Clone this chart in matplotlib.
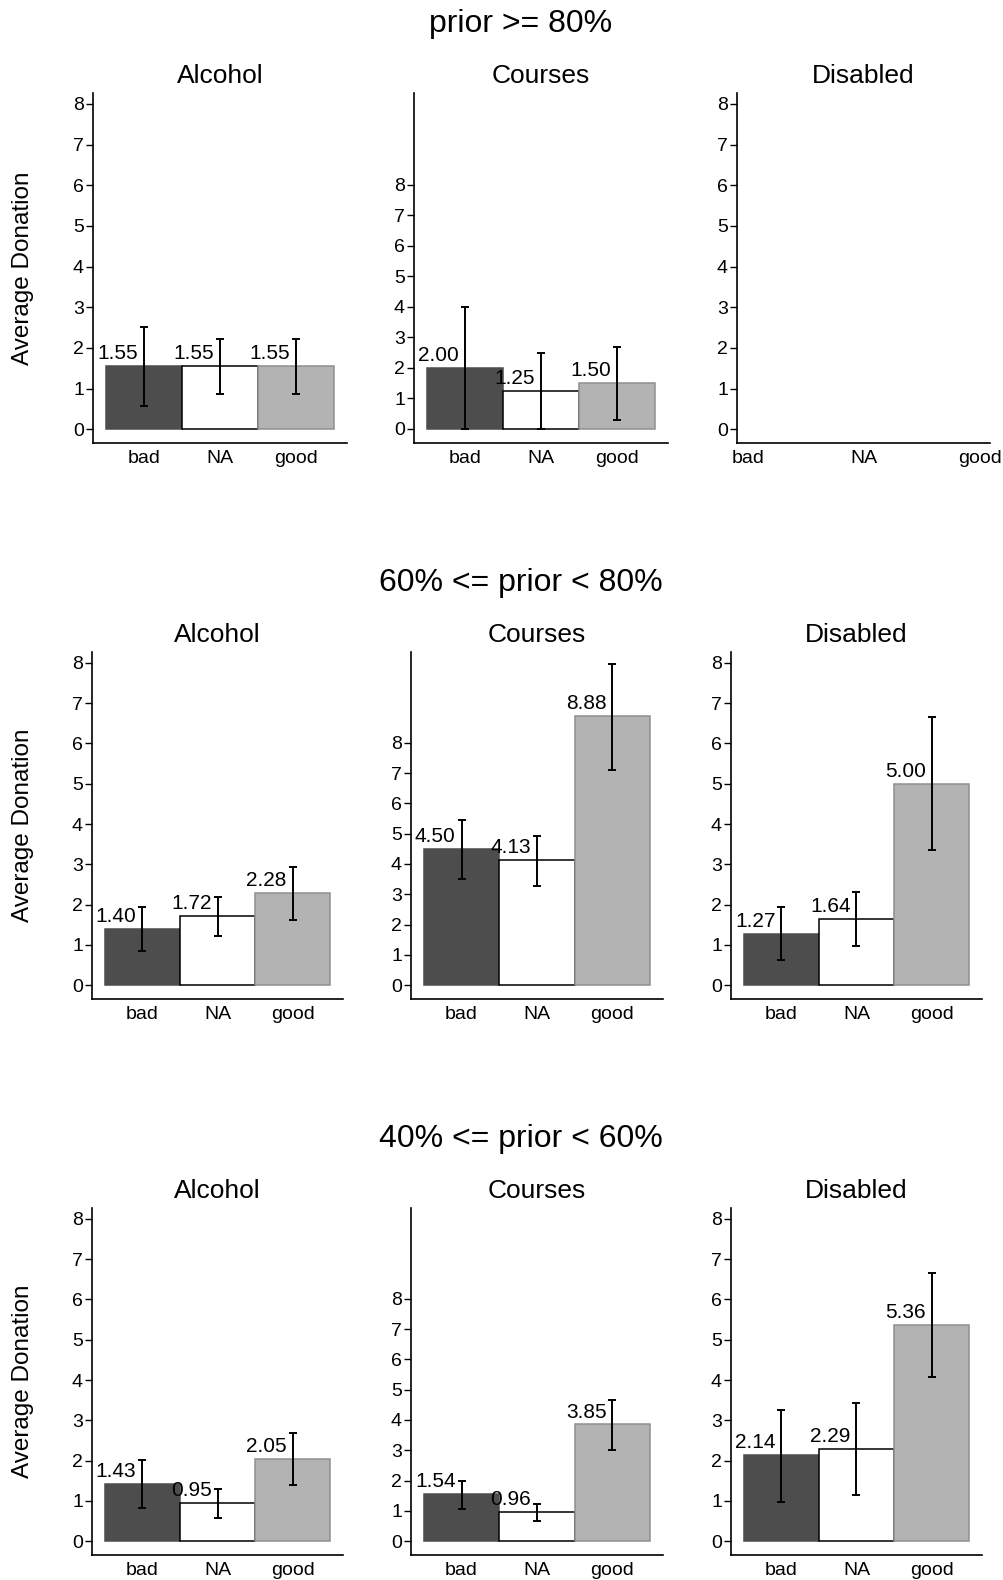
import matplotlib
matplotlib.use("Agg")
import matplotlib.pyplot as plt

plt.rcParams['font.family'] = ['Liberation Sans', 'DejaVu Sans']

# ---- data -------------------------------------------------------------
categories = ["bad", "NA", "good"]
charities = ["Alcohol", "Courses", "Disabled"]
prior_groups = ["prior >= 80%", "60% <= prior < 80%", "40% <= prior < 60%"]

# rows follow prior_groups; an empty list means no observations
alcohol_mean = [[1.55, 1.55, 1.55], [1.40, 1.72, 2.28], [1.43, 0.95, 2.05]]
alcohol_lo = [[0.56, 0.86, 0.86], [0.84, 1.23, 1.63], [0.83, 0.59, 1.39]]
alcohol_hi = [[2.52, 2.23, 2.23], [1.94, 2.19, 2.94], [2.02, 1.30, 2.68]]

courses_mean = [[2.00, 1.25, 1.50], [4.50, 4.13, 8.88], [1.54, 0.96, 3.85]]
courses_lo = [[0.00, 0.00, 0.28], [3.50, 3.27, 7.10], [1.05, 0.66, 3.00]]
courses_hi = [[3.99, 2.49, 2.68], [5.44, 4.92, 10.60], [1.99, 1.22, 4.66]]

disabled_mean = [[], [1.27, 1.64, 5.00], [2.14, 2.29, 5.36]]
disabled_lo = [[], [0.64, 0.98, 3.35], [0.97, 1.14, 4.07]]
disabled_hi = [[], [1.94, 2.31, 6.66], [3.27, 3.44, 6.66]]

y_ticks = [0, 1, 2, 3, 4, 5, 6, 7, 8]

panel_data = {
    "Alcohol": (alcohol_mean, alcohol_lo, alcohol_hi),
    "Courses": (courses_mean, courses_lo, courses_hi),
    "Disabled": (disabled_mean, disabled_lo, disabled_hi),
}
y_limits = {"Alcohol": (-0.34, 8.27), "Courses": (-0.46, 11.0), "Disabled": (-0.34, 8.27)}

bar_fill = ["#4d4d4d", "#ffffff", "#b3b3b3"]
bar_edge = ["#4d4d4d", "#000000", "#8f8f8f"]

# ---- layout (pixel boxes on a 1004 x 1580 canvas) ----------------------
W, H = 1004, 1580
fig = plt.figure(figsize=(W / 100, H / 100), dpi=100)

row_box = [(93, 443), (652, 999), (1208, 1555)]
col_box = [
    [(93, 347), (414, 668), (737, 990)],
    [(92, 343), (411, 663), (731, 982)],
    [(92, 343), (411, 663), (731, 982)],
]
group_baseline = [32, 591, 1147]

for r, group in enumerate(prior_groups):
    top, bottom = row_box[r]
    fig.text(521 / W, 1 - group_baseline[r] / H, group, ha="center",
             va="baseline", fontsize=23)
    for c, name in enumerate(charities):
        left, right = col_box[r][c]
        ax = fig.add_axes([left / W, 1 - bottom / H, (right - left) / W,
                           (bottom - top) / H])
        means, los, his = panel_data[name]
        mean, lo, hi = means[r], los[r], his[r]
        xs = list(range(len(categories)))

        if mean:
            ax.bar(xs, mean, width=1.0, color=bar_fill, edgecolor=bar_edge,
                   linewidth=1.1, zorder=2)
            ax.errorbar(xs, mean,
                        yerr=[[m - l for m, l in zip(mean, lo)],
                              [h - m for m, h in zip(mean, hi)]],
                        fmt="none", ecolor="black", elinewidth=1.4,
                        capsize=3, capthick=1.4, zorder=3)
            for x, m in zip(xs, mean):
                ax.annotate(f"{m:.2f}", xy=(x, m), xytext=(-4.3, 5),
                            textcoords="offset points", ha="right",
                            va="baseline", fontsize=15, zorder=4)
            ax.set_xlim(-0.67, 2.67)
        else:
            ax.set_xlim(-0.095, 2.086)

        ax.set_ylim(*y_limits[name])
        ax.set_yticks(y_ticks)
        ax.set_xticks(xs)
        ax.set_xticklabels(categories)
        ax.tick_params(axis="y", length=5, width=1, pad=1.5, labelsize=14)
        ax.tick_params(axis="x", length=0, pad=5, labelsize=14)
        for side in ("top", "right"):
            ax.spines[side].set_visible(False)
        for side in ("left", "bottom"):
            ax.spines[side].set_linewidth(1.2)
        ax.set_title(name, fontsize=19, pad=7)

        if c == 0:
            fig.text(23 / W, 1 - (top + bottom) / 2 / H, "Average Donation",
                     rotation=90, ha="center", va="center", fontsize=17.5)

fig.savefig("out.png", dpi=100)
